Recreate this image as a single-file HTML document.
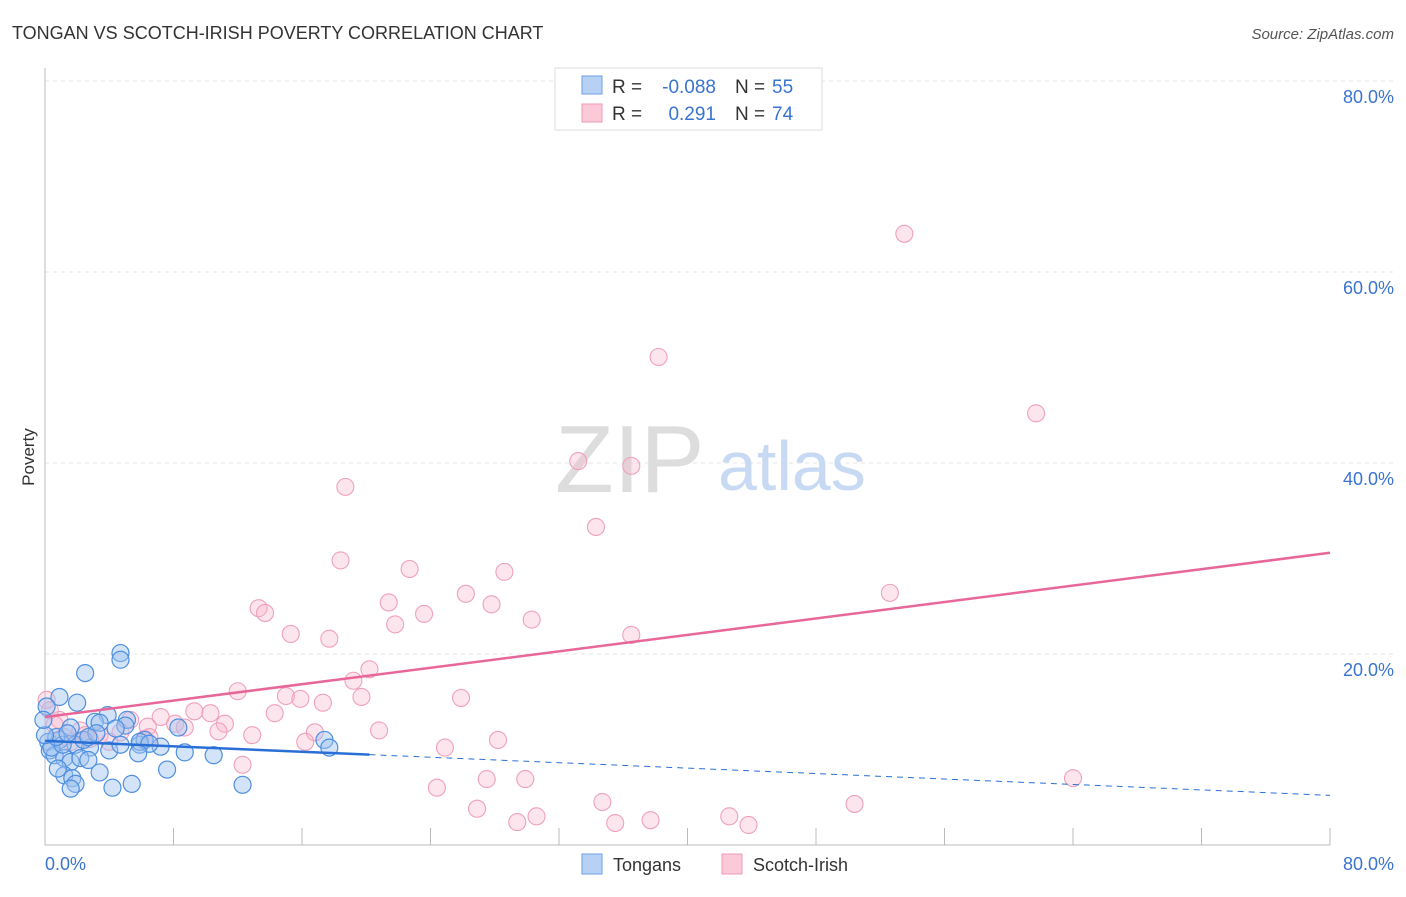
<!DOCTYPE html>
<html><head><meta charset="utf-8"><style>
body{margin:0;background:#fff;font-family:"Liberation Sans",sans-serif}
svg text{font-family:"Liberation Sans",sans-serif}
</style></head><body>
<svg id="c" width="1406" height="892">
<text x="12" y="39" font-size="18" fill="#333">TONGAN VS SCOTCH-IRISH POVERTY CORRELATION CHART</text>
<text x="1394" y="39" font-size="15" fill="#555" text-anchor="end" font-style="italic">Source: ZipAtlas.com</text>
<text x="34" y="457" font-size="17" fill="#333" transform="rotate(-90 34 457)" text-anchor="middle">Poverty</text>
<g id="grid"></g>
<line x1="45" y1="68" x2="45" y2="845" stroke="#bbb"/>
<line x1="45" y1="845" x2="1330" y2="845" stroke="#bbb"/>
<text x="555" y="492" font-size="96" fill="#ddd" font-family="Liberation Serif">ZIP</text>
<text x="718" y="490" font-size="70" fill="#c8daf3">atlas</text>
<g id="pts"></g>
<g id="trend"></g>
<text x="45" y="870" font-size="18" fill="#3a74d0">0.0%</text>
<text x="1394" y="870" font-size="18" fill="#3a74d0" text-anchor="end">80.0%</text>
<g>
<rect x="555" y="68" width="267" height="62" fill="#fff" stroke="#ddd"/>
<rect x="582" y="76" width="20" height="18" fill="#b7d1f5" stroke="#6fa2e6"/>
<rect x="582" y="104" width="20" height="18" fill="#fcc9d8" stroke="#ee9ab8"/>
<text x="612" y="93" font-size="19" fill="#333">R =</text>
<text x="716" y="93" font-size="19" fill="#3a74d0" text-anchor="end">-0.088</text>
<text x="735" y="93" font-size="19" fill="#333">N =</text>
<text x="772" y="93" font-size="19" fill="#3a74d0">55</text>
<text x="612" y="120" font-size="19" fill="#333">R =</text>
<text x="716" y="120" font-size="19" fill="#3a74d0" text-anchor="end">0.291</text>
<text x="735" y="120" font-size="19" fill="#333">N =</text>
<text x="772" y="120" font-size="19" fill="#3a74d0">74</text>
</g>
<g>
<rect x="582" y="854" width="20" height="20" fill="#b7d1f5" stroke="#6fa2e6"/>
<text x="613" y="871" font-size="18" fill="#333">Tongans</text>
<rect x="722" y="854" width="20" height="20" fill="#fcc9d8" stroke="#ee9ab8"/>
<text x="753" y="871" font-size="18" fill="#333">Scotch-Irish</text>
</g>
</svg>
<script>
const yTicks=[20,40,60,80];
const xTickCount=10;
const blueX=[4.7,4.7,2.5,0.9,0.1,2.0,3.9,3.1,3.4,5.1,8.3,1.6,0.2,0.9,1.9,2.8,4.0,4.7,5.9,6.2,7.2,8.7,10.5,17.4,17.7,0.3,0.6,1.2,1.6,2.2,2.7,0.4,1.2,1.7,3.4,7.6,1.9,1.6,4.2,5.4,12.3,1.1,0.7,2.4,3.2,5.0,5.9,6.5,4.4,1.4,0.0,0.8,-0.1,2.7,5.8];
const blueY=[20.1,19.4,18.0,15.5,14.5,14.9,13.6,12.9,12.8,13.1,12.3,12.3,10.8,11.0,10.5,10.2,9.9,10.5,10.5,11.0,10.3,9.7,9.4,11.0,10.2,9.9,9.4,9.1,8.7,9.1,8.9,10.2,7.3,7.0,7.6,7.9,6.4,5.9,6.0,6.4,6.3,10.5,11.3,11.0,11.7,12.5,10.8,10.6,12.2,11.7,11.5,8.0,13.1,11.3,9.6];
const pinkX=[53.5,38.2,61.7,33.2,36.5,18.7,34.3,18.4,22.7,28.6,26.2,52.6,13.3,13.7,21.4,27.8,23.6,30.3,21.8,15.3,36.5,17.7,20.2,19.2,12.0,19.7,25.9,15.0,15.9,9.3,10.3,14.3,17.3,7.2,5.3,8.1,11.2,6.4,8.7,10.8,12.9,16.8,20.8,4.7,3.4,2.2,0.9,0.3,0.1,1.2,2.8,4.0,6.2,16.2,28.2,24.9,12.3,27.5,29.9,24.4,64.0,34.7,50.4,26.9,30.6,29.4,35.5,37.7,42.6,43.8,0.6,1.6,2.5,6.5];
const pinkY=[64.0,51.1,45.2,40.2,39.7,37.5,33.3,29.8,28.9,28.6,26.3,26.4,24.8,24.3,25.4,25.2,24.2,23.6,23.1,22.1,22.0,21.6,18.4,17.2,16.1,15.5,15.4,15.6,15.3,14.0,13.8,13.8,14.9,13.4,13.1,12.7,12.7,12.4,12.3,11.9,11.5,11.8,12.0,11.8,11.5,12.0,13.1,14.1,15.2,11.3,11.1,10.8,11.1,10.8,11.0,10.2,8.4,6.9,6.9,6.0,7.0,4.5,4.3,3.8,3.0,2.4,2.3,2.6,3.0,2.1,12.6,10.8,11.5,11.3];
const blueTrend=[10.9,5.2];const blueSolidEnd=20.2;
const pinkTrend=[13.4,30.6];
const X=v=>45+v/80*1285, Y=v=>845-v*9.55;
const NS='http://www.w3.org/2000/svg';
function mk(t,a,p){const e=document.createElementNS(NS,t);for(const k in a)e.setAttribute(k,a[k]);p.appendChild(e);return e;}
const grid=document.getElementById('grid');
yTicks.forEach(t=>{
 const l=mk('line',{x1:45,x2:1394,y1:Y(t),y2:Y(t),stroke:'#e6e6e6','stroke-dasharray':'4 4'},grid);
 
 
 const tx=mk('text',{x:1394,y:Y(t)+22,'font-size':18,fill:'#3a74d0','text-anchor':'end'},grid);
 tx.textContent=t.toFixed(1)+'%';
 
 
});
for(let i=0;i<=xTickCount;i++){
 const x=X(i*8);
 const l=mk('line',{x1:x,x2:x,y1:828,y2:845,stroke:'#bbb'},grid);
 
 
}
const pts=document.getElementById('pts');
pinkX.forEach((v,i)=>{
 const c=mk('circle',{cx:X(v),cy:Y(pinkY[i]),r:8.5,fill:'rgba(248,180,202,0.35)',stroke:'#ef a0bc'.replace(' ',''),'stroke-width':1.1},pts);
 
 
});
blueX.forEach((v,i)=>{
 const c=mk('circle',{cx:X(v),cy:Y(blueY[i]),r:8.5,fill:'rgba(160,196,240,0.45)',stroke:'#4f8fe0','stroke-width':1.2},pts);
 
 
});
const tr=document.getElementById('trend');
const by=x=>blueTrend[0]+(blueTrend[1]-blueTrend[0])*x/80;
let l=mk('line',{x1:X(0),y1:Y(by(0)),x2:X(blueSolidEnd),y2:Y(by(blueSolidEnd)),stroke:'#2a6fd6','stroke-width':2.5},tr);


l=mk('line',{x1:X(blueSolidEnd),y1:Y(by(blueSolidEnd)),x2:X(80),y2:Y(by(80)),stroke:'#2a6fd6','stroke-width':1,'stroke-dasharray':'6 5'},tr);


l=mk('line',{x1:X(0),y1:Y(pinkTrend[0]),x2:X(80),y2:Y(pinkTrend[1]),stroke:'#e8679a','stroke-width':2.5},tr);


</script>
</body></html>
